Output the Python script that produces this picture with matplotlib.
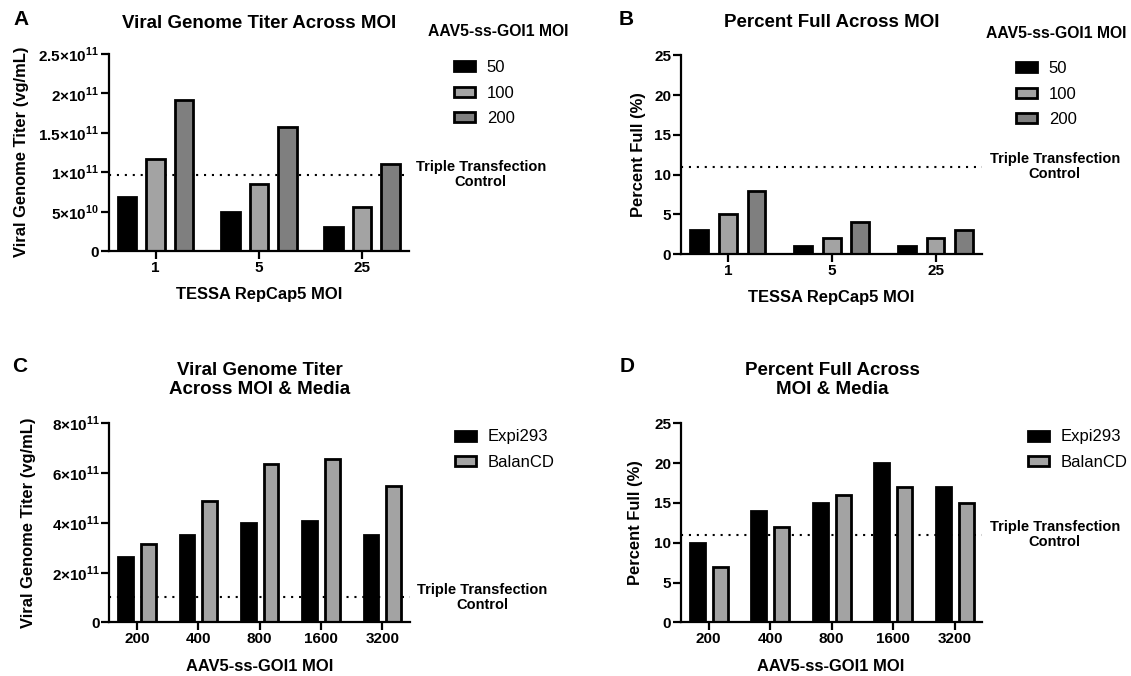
import numpy as np
import matplotlib
matplotlib.use("Agg")
import matplotlib.pyplot as plt
from matplotlib.transforms import blended_transform_factory

plt.rcParams["font.family"] = ["Liberation Sans", "DejaVu Sans"]
plt.rcParams["font.weight"] = "bold"
plt.rcParams["mathtext.fontset"] = "custom"
plt.rcParams["mathtext.rm"] = "Liberation Sans:bold"
plt.rcParams["mathtext.bf"] = "Liberation Sans:bold"

W, H = 1131, 676

# A / B : TESSA RepCap5 MOI groups, one bar per AAV5-ss-GOI1 MOI
repcap_moi = ["1", "5", "25"]
goi_moi = ["50", "100", "200"]
titer_50 = [0.69e11, 0.49e11, 0.30e11]
titer_100 = [1.17e11, 0.85e11, 0.56e11]
titer_200 = [1.92e11, 1.57e11, 1.10e11]
titer_control_ab = 0.97e11
full_50 = [3, 1, 1]
full_100 = [5, 2, 2]
full_200 = [8, 4, 3]
full_control_ab = 11

# C / D : AAV5-ss-GOI1 MOI groups, two media
goi_moi_cd = ["200", "400", "800", "1600", "3200"]
media = ["Expi293", "BalanCD"]
titer_expi = [2.63e11, 3.51e11, 4.01e11, 4.07e11, 3.50e11]
titer_balan = [3.15e11, 4.88e11, 6.38e11, 6.57e11, 5.49e11]
titer_control_cd = 1.0e11
full_expi = [10, 14, 15, 20, 17]
full_balan = [7, 12, 16, 17, 15]
full_control_cd = 11

grays3 = ["#000000", "#a3a3a3", "#7f7f7f"]
grays2 = ["#000000", "#a3a3a3"]


def fx(x):
    return x / W


def fy(y):
    return 1 - y / H


def sci_fmt(v, pos):
    if v == 0:
        return "0"
    exp = int(np.floor(np.log10(v) + 1e-9))
    mant = v / 10 ** exp
    return r"$%g{\times}10^{%d}$" % (mant, exp)


def style_axes(ax):
    for side in ["top", "right"]:
        ax.spines[side].set_visible(False)
    for side in ["left", "bottom"]:
        ax.spines[side].set_linewidth(1.6)
    ax.tick_params(width=1.6, length=5.5, labelsize=11, pad=1.5)


def grouped_bars(ax, groups, series, labels, colors, width, step):
    x = np.arange(len(groups))
    n = len(series)
    for i, (vals, lab, col) in enumerate(zip(series, labels, colors)):
        off = (i - (n - 1) / 2) * step
        ax.bar(x + off, vals, width, color=col, edgecolor="black",
               linewidth=2.0, label=lab, zorder=2)
    ax.set_xticks(x)
    ax.set_xticklabels(groups)
    ax.set_xlim(-0.45, len(groups) - 1 + 0.45)


def control_line(ax, value):
    ax.axhline(value, color="black", linewidth=1.5, linestyle=(0, (1, 2.8)), zorder=1)
    tr = blended_transform_factory(ax.transAxes, ax.transData)
    ax.text(1.24, value, "Triple Transfection\nControl", transform=tr,
            ha="center", va="center", fontsize=10.5, fontweight="bold",
            linespacing=1.05, clip_on=False)


def add_legend(ax, x, y):
    ax.legend(loc="center left", bbox_to_anchor=(fx(x), fy(y)),
              bbox_transform=fig.transFigure, frameon=False, borderpad=0,
              borderaxespad=0, handlelength=1.26, handleheight=0.55,
              handletextpad=0.7, labelspacing=0.63,
              prop={"weight": "normal", "size": 12})


fig = plt.figure(figsize=(W / 100, H / 100), dpi=100)

# ---- A
ax_a = fig.add_axes([fx(109), fy(251), 299.7 / W, 197 / H])
grouped_bars(ax_a, repcap_moi, [titer_50, titer_100, titer_200], goi_moi, grays3, 0.18, 0.275)
ax_a.set_ylim(0, 2.5e11)
ax_a.set_yticks(np.arange(0, 2.51e11, 0.5e11))
ax_a.yaxis.set_major_formatter(plt.FuncFormatter(sci_fmt))
control_line(ax_a, titer_control_ab)
style_axes(ax_a)
add_legend(ax_a, 454, 93)

# ---- B
ax_b = fig.add_axes([fx(681), fy(254.3), 301.4 / W, 199 / H])
grouped_bars(ax_b, repcap_moi, [full_50, full_100, full_200], goi_moi, grays3, 0.17, 0.275)
ax_b.set_ylim(0, 25)
ax_b.set_yticks(range(0, 26, 5))
control_line(ax_b, full_control_ab)
style_axes(ax_b)
add_legend(ax_b, 1016, 94.3)

# ---- C
ax_c = fig.add_axes([fx(109.3), fy(622.3), 300.7 / W, 199 / H])
grouped_bars(ax_c, goi_moi_cd, [titer_expi, titer_balan], media, grays2, 0.24, 0.37)
ax_c.set_ylim(0, 8e11)
ax_c.set_yticks(np.arange(0, 8.1e11, 2e11))
ax_c.yaxis.set_major_formatter(plt.FuncFormatter(sci_fmt))
control_line(ax_c, titer_control_cd)
style_axes(ax_c)
add_legend(ax_c, 455.4, 449.7)

# ---- D
ax_d = fig.add_axes([fx(681), fy(622.3), 301.4 / W, 199 / H])
grouped_bars(ax_d, goi_moi_cd, [full_expi, full_balan], media, grays2, 0.245, 0.37)
ax_d.set_ylim(0, 25)
ax_d.set_yticks(range(0, 26, 5))
control_line(ax_d, full_control_cd)
style_axes(ax_d)
add_legend(ax_d, 1028, 449.7)

# titles, letters, axis labels
fs_title = 13.5
fs_lab = 11.9
fig.text(fx(21.5), fy(19.5), "A", fontsize=15, ha="center", va="center")
fig.text(fx(626.5), fy(19.5), "B", fontsize=15, ha="center", va="center")
fig.text(fx(19.5), fy(366.7), "C", fontsize=15, ha="center", va="center")
fig.text(fx(627), fy(366.7), "D", fontsize=15, ha="center", va="center")

fig.text(fx(258.9), fy(23.3), "Viral Genome Titer Across MOI", fontsize=fs_title, ha="center", va="center")
fig.text(fx(832), fy(22.7), "Percent Full Across MOI", fontsize=fs_title, ha="center", va="center")
fig.text(fx(259.6), fy(380), "Viral Genome Titer\nAcross MOI & Media", fontsize=fs_title,
         ha="center", va="center", linespacing=1.1)
fig.text(fx(832), fy(380), "Percent Full Across\nMOI & Media", fontsize=fs_title,
         ha="center", va="center", linespacing=1.1)

fig.text(fx(498), fy(32), "AAV5-ss-GOI1 MOI", fontsize=11.3, ha="center", va="center")
fig.text(fx(1056), fy(33), "AAV5-ss-GOI1 MOI", fontsize=11.3, ha="center", va="center")

fig.text(fx(21.7), fy(152), "Viral Genome Titer (vg/mL)", fontsize=fs_lab, rotation=90, ha="center", va="center")
fig.text(fx(638), fy(155), "Percent Full (%)", fontsize=fs_lab, rotation=90, ha="center", va="center")
fig.text(fx(28.6), fy(523), "Viral Genome Titer (vg/mL)", fontsize=fs_lab, rotation=90, ha="center", va="center")
fig.text(fx(635.6), fy(523), "Percent Full (%)", fontsize=fs_lab, rotation=90, ha="center", va="center")

fig.text(fx(258.9), fy(295), "TESSA RepCap5 MOI", fontsize=fs_lab, ha="center", va="center")
fig.text(fx(831), fy(297), "TESSA RepCap5 MOI", fontsize=fs_lab, ha="center", va="center")
fig.text(fx(259.6), fy(666.7), "AAV5-ss-GOI1 MOI", fontsize=fs_lab, ha="center", va="center")
fig.text(fx(831), fy(666.7), "AAV5-ss-GOI1 MOI", fontsize=fs_lab, ha="center", va="center")

fig.savefig("out.png", dpi=100)
